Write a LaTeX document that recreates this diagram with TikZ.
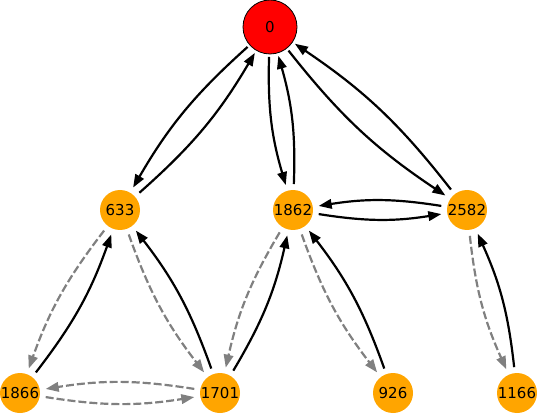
\documentclass[tikz,border=0pt]{standalone}
\usepackage{fontspec}
\setmainfont{DejaVu Sans}
\newfontfamily\labelfont{DejaVu Sans}
\usetikzlibrary{arrows.meta}
\definecolor{nodeorange}{HTML}{FFA500}
\definecolor{edgegray}{HTML}{808080}
\tikzset{
  vnode/.style={circle, fill=nodeorange, minimum size=40pt, inner sep=0pt, outer sep=6pt},
  rootnode/.style={circle, fill=red, draw=black, line width=0.8pt, minimum size=54pt, inner sep=0pt, outer sep=3pt},
  solidedge/.style={draw=black, line width=2.2pt, -{Triangle[length=13pt,width=9.5pt]}, bend right=9},
  dashedge/.style={draw=edgegray, line width=2.2pt, dash pattern=on 8pt off 3pt, -{Triangle[length=13pt,width=9.5pt,fill=edgegray]}, bend right=9}
}
\begin{document}
\begin{tikzpicture}[x=1pt,y=-1pt, every node/.style={font=\labelfont\fontsize{15}{15}\selectfont}]
\useasboundingbox (0,0) rectangle (538,414);
\node[rootnode] (n0) at (270,27) {0};
\node[vnode] (n633) at (120,210) {633};
\node[vnode] (n1862) at (293,210) {1862};
\node[vnode] (n2582) at (467,210) {2582};
\node[vnode] (n1866) at (20,393) {1866};
\node[vnode] (n1701) at (220,393) {1701};
\node[vnode] (n926) at (393,393) {926};
\node[vnode] (n1166) at (517,393) {1166};
% solid edges
\draw[solidedge] (n0) to (n633);
\draw[solidedge] (n633) to (n0);
\draw[solidedge] (n0) to (n1862);
\draw[solidedge] (n1862) to (n0);
\draw[solidedge] (n0) to (n2582);
\draw[solidedge] (n2582) to (n0);
\draw[solidedge] (n1862) to (n2582);
\draw[solidedge] (n2582) to (n1862);
\draw[solidedge] (n1866) to (n633);
\draw[solidedge] (n1701) to (n633);
\draw[solidedge] (n1701) to (n1862);
\draw[solidedge] (n926) to (n1862);
\draw[solidedge] (n1166) to (n2582);
% dashed edges
\draw[dashedge] (n633) to (n1866);
\draw[dashedge] (n633) to (n1701);
\draw[dashedge] (n1862) to (n1701);
\draw[dashedge] (n1862) to (n926);
\draw[dashedge] (n2582) to (n1166);
\draw[dashedge] (n1866) to (n1701);
\draw[dashedge] (n1701) to (n1866);
\end{tikzpicture}
\end{document}
